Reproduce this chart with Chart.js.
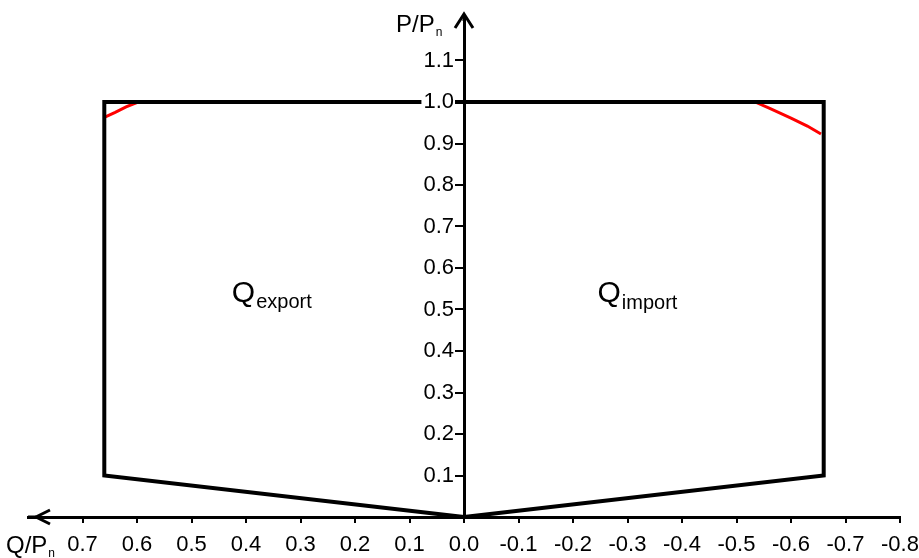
<!DOCTYPE html>
<html>
<head>
<meta charset="utf-8">
<script src="https://cdn.jsdelivr.net/npm/chart.js@4/dist/chart.umd.min.js"></script>
<style>
html, body { margin: 0; padding: 0; background: #fff; }
#wrap { width: 919px; height: 558px; }
</style>
</head>
<body>
<div id="wrap"><canvas id="grafica"></canvas></div>
<script>
// Contorno P-Q (eje X = Q/Pn invertido, eje Y = P/Pn)
const contornoQ = [0, 0.66, 0.66, -0.66, -0.66, 0];
const contornoP = [0, 0.1, 1.0, 1.0, 0.1, 0];
// Límite rojo, lado exportación
const limiteExpQ = [0.598, 0.62, 0.64, 0.66];
const limiteExpP = [1.0, 0.988, 0.975, 0.963];
// Límite rojo, lado importación
const limiteImpQ = [-0.534, -0.56, -0.6, -0.63, -0.655];
const limiteImpP = [1.0, 0.985, 0.961, 0.942, 0.923];
// Ticks
const ticksQ = [0.7, 0.6, 0.5, 0.4, 0.3, 0.2, 0.1, 0.0, -0.1, -0.2, -0.3, -0.4, -0.5, -0.6, -0.7, -0.8];
const ticksP = [0.1, 0.2, 0.3, 0.4, 0.5, 0.6, 0.7, 0.8, 0.9, 1.0, 1.1];

const puntos = (qs, ps) => qs.map((q, i) => ({ x: q, y: ps[i] }));
const fuente = "'Liberation Sans', Arial, sans-serif";

// flechas de los ejes y textos con subíndice
const ejesPlugin = {
  id: "ejes",
  afterDraw(chart) {
    const c = chart.ctx;
    const sx = chart.scales.x, sy = chart.scales.y;
    const x0 = sx.getPixelForValue(0);
    const y0 = sy.getPixelForValue(0);
    const top = chart.chartArea.top;
    const left = chart.chartArea.left;
    c.save();
    c.strokeStyle = "#000";
    c.lineWidth = 3;
    c.lineCap = "butt";
    c.lineJoin = "miter";
    // flecha vertical
    c.beginPath();
    c.moveTo(x0, top + 2);
    c.lineTo(x0, top - 4);
    c.stroke();
    c.beginPath();
    c.moveTo(x0 - 9, top + 9);
    c.lineTo(x0, top - 5);
    c.lineTo(x0 + 9, top + 9);
    c.stroke();
    // flecha horizontal
    c.beginPath();
    c.moveTo(left, y0);
    c.lineTo(left + 8, y0);
    c.stroke();
    c.beginPath();
    c.moveTo(left + 22, y0 - 7);
    c.lineTo(left + 8, y0);
    c.lineTo(left + 22, y0 + 7);
    c.stroke();

    c.fillStyle = "#000";
    c.textBaseline = "alphabetic";
    c.textAlign = "left";
    const sub = (base, baseSize, idx, idxSize, x, y, dy) => {
      c.font = baseSize + "px " + fuente;
      c.fillText(base, x, y);
      const w = c.measureText(base).width;
      c.font = idxSize + "px " + fuente;
      c.fillText(idx, x + w + 1, y + dy);
    };
    // títulos de ejes
    sub("P/P", 24, "n", 12, x0 - 68, 32, 4);
    sub("Q/P", 24, "n", 12, 6, y0 + 36, 4);
    // zonas
    sub("Q", 30, "export", 20, sx.getPixelForValue(0.426), sy.getPixelForValue(0.518), 6);
    sub("Q", 30, "import", 20, sx.getPixelForValue(-0.245), sy.getPixelForValue(0.518), 7);
    c.restore();
  }
};

const ctx = document.getElementById("grafica").getContext("2d");
new Chart(ctx, {
  type: "scatter",
  data: {
    datasets: [
      {
        label: "Contorno",
        data: puntos(contornoQ, contornoP),
        showLine: true,
        borderColor: "#000",
        borderWidth: 4,
        borderJoinStyle: "miter",
        pointRadius: 0,
        clip: false
      },
      {
        label: "Límite exportación",
        data: puntos(limiteExpQ, limiteExpP),
        showLine: true,
        borderColor: "#ff0000",
        borderWidth: 3,
        pointRadius: 0,
        clip: false
      },
      {
        label: "Límite importación",
        data: puntos(limiteImpQ, limiteImpP),
        showLine: true,
        borderColor: "#ff0000",
        borderWidth: 3,
        pointRadius: 0,
        clip: false
      }
    ]
  },
  options: {
    responsive: true,
    maintainAspectRatio: false,
    animation: false,
    layout: { padding: { left: 28, right: 19, top: 19, bottom: 0 } },
    plugins: { legend: { display: false }, tooltip: { enabled: false } },
    scales: {
      x: {
        type: "linear",
        position: "bottom",
        reverse: true,
        min: -0.8,
        max: 0.8,
        afterBuildTicks: s => { s.ticks = ticksQ.map(v => ({ value: v })); },
        afterFit: s => { s.height = 41; s.paddingLeft = 0; s.paddingRight = 0; },
        border: { display: true, color: "#000", width: 3 },
        grid: { drawOnChartArea: false, drawTicks: true, tickLength: 6, color: "#000", lineWidth: 2 },
        ticks: {
          color: "#000",
          font: { family: fuente, size: 22 },
          padding: 9,
          maxRotation: 0,
          autoSkip: false,
          callback: v => v.toFixed(1)
        }
      },
      y: {
        type: "linear",
        position: "center",
        min: 0,
        max: 1.2,
        afterBuildTicks: s => { s.ticks = ticksP.map(v => ({ value: v })); },
        afterFit: s => { s.paddingTop = 0; s.paddingBottom = 0; },
        border: { display: true, color: "#000", width: 3, z: 1 },
        grid: { drawOnChartArea: false, drawTicks: true, tickLength: 8, color: "#000", lineWidth: 2, z: 1 },
        ticks: {
          z: 1,
          color: "#000",
          font: { family: fuente, size: 22 },
          padding: 2,
          autoSkip: false,
          showLabelBackdrop: true,
          backdropColor: "#fff",
          backdropPadding: { left: 2, right: 1, top: 0, bottom: 0 },
          callback: v => v.toFixed(1)
        }
      }
    }
  },
  plugins: [ejesPlugin]
});
</script>
</body>
</html>
